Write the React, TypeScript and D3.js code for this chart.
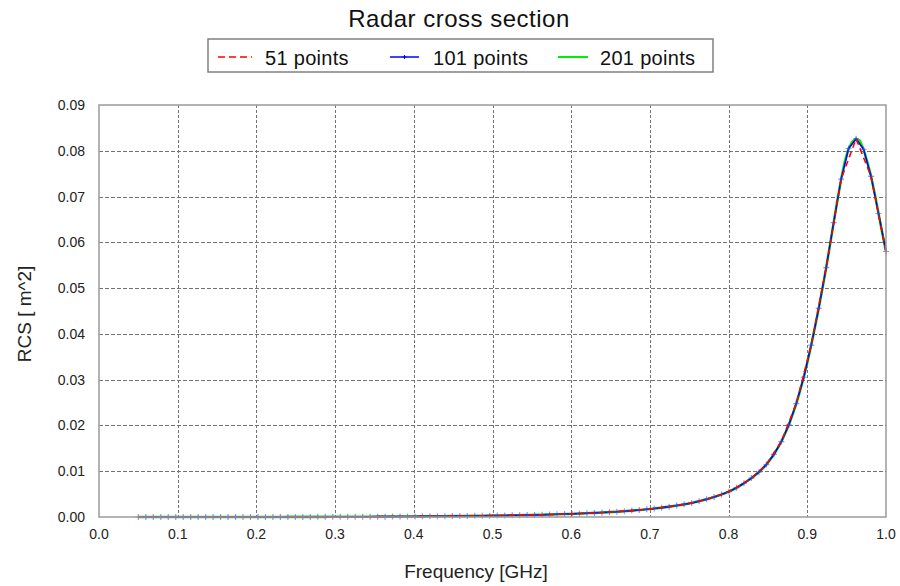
import React from 'react';
import * as d3 from 'd3';

// ---- data -------------------------------------------------------------
const chartTitle = 'Radar cross section';
const xLabel = 'Frequency [GHz]';
const yLabel = 'RCS [ m^2]';
const xTicks = [0.0, 0.1, 0.2, 0.3, 0.4, 0.5, 0.6, 0.7, 0.8, 0.9, 1.0];
const yTicks = [0.0, 0.01, 0.02, 0.03, 0.04, 0.05, 0.06, 0.07, 0.08, 0.09];
const seriesNames = ['51 points', '101 points', '201 points'];
const seriesColors = ['#ff0000', '#0000ff', '#00ee00'];
const freqStart = 0.05; // GHz, first sample of the sweep
const freqStop = 1.0; // GHz, last sample of the sweep

// RCS [m^2], 51-point sweep
const rcs51 = [
  0, 0, 0, 0, 0, 0, 0, 0.00001, 0.00001, 0.00001,
  0.00002, 0.00002, 0.00003, 0.00004, 0.00005, 0.00006, 0.00008, 0.00009, 0.00011, 0.00014,
  0.00016, 0.0002, 0.00023, 0.00027, 0.00031, 0.00037, 0.00043, 0.0005, 0.00059, 0.00069,
  0.00082, 0.00098, 0.00116, 0.0014, 0.00168, 0.00204, 0.0025, 0.00307, 0.00389, 0.00492,
  0.00639, 0.0085, 0.01146, 0.01648, 0.02477, 0.03755, 0.05447, 0.0738, 0.08262, 0.0744,
  0.058,
];

// RCS [m^2], 101-point sweep
const rcs101 = [
  0, 0, 0, 0, 0, 0, 0, 0, 0, 0,
  0, 0, 0, 0, 0.00001, 0.00001, 0.00001, 0.00001, 0.00001, 0.00001,
  0.00002, 0.00002, 0.00002, 0.00002, 0.00003, 0.00003, 0.00004, 0.00004, 0.00005, 0.00005,
  0.00006, 0.00007, 0.00008, 0.00008, 0.00009, 0.0001, 0.00011, 0.00012, 0.00014, 0.00015,
  0.00016, 0.00018, 0.0002, 0.00021, 0.00023, 0.00025, 0.00027, 0.00029, 0.00031, 0.00034,
  0.00037, 0.00039, 0.00043, 0.00046, 0.0005, 0.00054, 0.00059, 0.00064, 0.00069, 0.00076,
  0.00082, 0.0009, 0.00098, 0.00106, 0.00116, 0.00127, 0.0014, 0.00153, 0.00168, 0.00185,
  0.00204, 0.00226, 0.0025, 0.00276, 0.00307, 0.00345, 0.00389, 0.00437, 0.00492, 0.00554,
  0.00639, 0.00737, 0.0085, 0.0098, 0.01146, 0.01366, 0.01648, 0.02011, 0.02477, 0.03053,
  0.03755, 0.04557, 0.05447, 0.0643, 0.0738, 0.0805, 0.08262, 0.0803, 0.0744, 0.0663,
  0.058,
];

// RCS [m^2], 201-point sweep
const rcs201 = [
  0, 0, 0, 0, 0, 0, 0, 0, 0, 0,
  0, 0, 0, 0, 0, 0, 0, 0, 0, 0,
  0, 0, 0, 0, 0, 0, 0, 0, 0.00001, 0.00001,
  0.00001, 0.00001, 0.00001, 0.00001, 0.00001, 0.00001, 0.00001, 0.00001, 0.00001, 0.00001,
  0.00002, 0.00002, 0.00002, 0.00002, 0.00002, 0.00002, 0.00002, 0.00003, 0.00003, 0.00003,
  0.00003, 0.00004, 0.00004, 0.00004, 0.00004, 0.00005, 0.00005, 0.00005, 0.00005, 0.00006,
  0.00006, 0.00006, 0.00007, 0.00007, 0.00008, 0.00008, 0.00008, 0.00009, 0.00009, 0.0001,
  0.0001, 0.00011, 0.00011, 0.00012, 0.00012, 0.00013, 0.00014, 0.00014, 0.00015, 0.00016,
  0.00016, 0.00017, 0.00018, 0.00019, 0.0002, 0.0002, 0.00021, 0.00022, 0.00023, 0.00024,
  0.00025, 0.00026, 0.00027, 0.00028, 0.00029, 0.0003, 0.00031, 0.00033, 0.00034, 0.00035,
  0.00037, 0.00038, 0.00039, 0.00041, 0.00043, 0.00044, 0.00046, 0.00048, 0.0005, 0.00052,
  0.00054, 0.00056, 0.00059, 0.00061, 0.00064, 0.00067, 0.00069, 0.00072, 0.00076, 0.00079,
  0.00082, 0.00086, 0.0009, 0.00094, 0.00098, 0.00102, 0.00106, 0.00111, 0.00116, 0.00122,
  0.00127, 0.00133, 0.0014, 0.00146, 0.00153, 0.0016, 0.00168, 0.00176, 0.00185, 0.00194,
  0.00204, 0.00215, 0.00226, 0.00237, 0.0025, 0.00263, 0.00276, 0.0029, 0.00307, 0.00326,
  0.00345, 0.00366, 0.00389, 0.00412, 0.00437, 0.00464, 0.00492, 0.00522, 0.00554, 0.00595,
  0.00639, 0.00686, 0.00737, 0.00792, 0.0085, 0.00912, 0.0098, 0.01056, 0.01146, 0.01249,
  0.01366, 0.01498, 0.01648, 0.01818, 0.02011, 0.02231, 0.02477, 0.0275, 0.03053, 0.03389,
  0.03755, 0.04144, 0.04557, 0.04991, 0.05447, 0.05935, 0.0643, 0.06925, 0.0738, 0.0777,
  0.0805, 0.082, 0.08262, 0.0822, 0.0803, 0.0776, 0.0744, 0.0706, 0.0663, 0.062,
  0.058,
];

// ---- layout -----------------------------------------------------------
const W = 900;
const H = 586;
const margin = { left: 99, right: 14, top: 105, bottom: 69 };
const FONT = '"Liberation Sans", Arial, Helvetica, sans-serif';

type Pt = { f: number; v: number };

function sweep(values: number[]): Pt[] {
  const n = values.length;
  return values.map((v, i) => ({ f: freqStart + ((freqStop - freqStart) * i) / (n - 1), v }));
}

export default function App() {
  const x = d3.scaleLinear().domain([0, 1]).range([margin.left, W - margin.right]);
  const y = d3.scaleLinear().domain([0, 0.09]).range([H - margin.bottom, margin.top]);
  const line = d3
    .line<Pt>()
    .x((d) => x(d.f))
    .y((d) => y(d.v));

  const s51 = sweep(rcs51);
  const s101 = sweep(rcs101);
  const s201 = sweep(rcs201);

  const x0 = x(0);
  const x1 = x(1);
  const y0 = y(0);
  const y1 = y(0.09);
  const fx = d3.format('.1f');
  const fy = d3.format('.2f');

  const markerPath = (px: number, py: number, r: number) =>
    `M${px - r},${py}h${2 * r}M${px},${py - r}v${2 * r}`;

  // legend
  const legTop = 39;
  const legBottom = 72;
  const legLeft = 208;
  const legRight = 713;
  const legY = 57;
  const legItems = [
    { x0: 218, x1: 252, tx: 265 },
    { x0: 390, x1: 419, tx: 433 },
    { x0: 558, x1: 588, tx: 600 },
  ];

  return (
    <svg
      width={W}
      height={H}
      style={{ position: 'absolute', left: 0, top: 0, background: '#fff' }}
      fontFamily={FONT}
    >
      <rect x={0} y={0} width={W} height={H} fill="#fff" />
      {/* title */}
      <text x={459} y={27} textAnchor="middle" fontSize={24} letterSpacing={0.5} fill="#111">
        {chartTitle}
      </text>

      {/* legend */}
      <rect
        x={legLeft}
        y={legTop}
        width={legRight - legLeft}
        height={legBottom - legTop}
        fill="#fff"
        stroke="#808080"
        strokeWidth={1.5}
      />
      {legItems.map((it, i) => (
        <g key={seriesNames[i]}>
          <line
            x1={it.x0}
            x2={it.x1}
            y1={legY}
            y2={legY}
            stroke={seriesColors[i]}
            strokeWidth={i === 2 ? 2 : 1.5}
            strokeDasharray={i === 0 ? '7,4' : undefined}
          />
          {i === 1 && (
            <path
              d={markerPath((it.x0 + it.x1) / 2, legY, 2)}
              stroke={seriesColors[1]}
              strokeWidth={1}
              fill="none"
            />
          )}
          <text x={it.tx} y={65} fontSize={20} letterSpacing={0.3} fill="#111">
            {seriesNames[i]}
          </text>
        </g>
      ))}

      {/* grid */}
      {yTicks
        .filter((t) => t > 0 && t < 0.09 - 1e-9)
        .map((t) => (
          <line
            key={'gy' + t}
            x1={x0}
            x2={x1}
            y1={Math.round(y(t)) + 0.5}
            y2={Math.round(y(t)) + 0.5}
            stroke="#737373"
            strokeWidth={1}
            strokeDasharray="4,2"
          />
        ))}
      {xTicks
        .filter((t) => t > 0 && t < 1 - 1e-9)
        .map((t) => (
          <line
            key={'gx' + t}
            x1={Math.round(x(t)) + 0.5}
            x2={Math.round(x(t)) + 0.5}
            y1={y1}
            y2={y0}
            stroke="#737373"
            strokeWidth={1}
            strokeDasharray="3,2"
          />
        ))}

      {/* series */}
      <path d={line(s201) || ''} fill="none" stroke={seriesColors[2]} strokeWidth={2.6} />
      <path d={line(s101) || ''} fill="none" stroke={seriesColors[1]} strokeWidth={1.6} />
      <g stroke="#4a4aff" strokeOpacity={0.6} strokeWidth={1.2} fill="none">
        {s101.map((d, i) => (
          <path key={'m' + i} d={markerPath(x(d.f), y(d.v), 3)} />
        ))}
      </g>
      <path
        d={line(s51) || ''}
        fill="none"
        stroke={seriesColors[0]}
        strokeWidth={1.6}
        strokeDasharray="6,4"
      />

      {/* frame */}
      <rect
        x={x0}
        y={y1}
        width={x1 - x0}
        height={y0 - y1}
        fill="none"
        stroke="#9a9a9a"
        strokeWidth={1.5}
      />

      {/* tick labels */}
      {xTicks.map((t) => (
        <text key={'tx' + t} x={x(t)} y={539} textAnchor="middle" fontSize={14} fill="#222">
          {fx(t)}
        </text>
      ))}
      {yTicks.map((t) => (
        <text
          key={'ty' + t}
          x={85}
          y={y(t)}
          dy="0.36em"
          textAnchor="end"
          fontSize={14}
          fill="#222"
        >
          {fy(t)}
        </text>
      ))}

      {/* axis titles */}
      <text x={476} y={578} textAnchor="middle" fontSize={19} fill="#222">
        {xLabel}
      </text>
      <text
        transform={`translate(31,314) rotate(-90)`}
        textAnchor="middle"
        fontSize={19}
        fill="#222"
      >
        {yLabel}
      </text>
    </svg>
  );
}
